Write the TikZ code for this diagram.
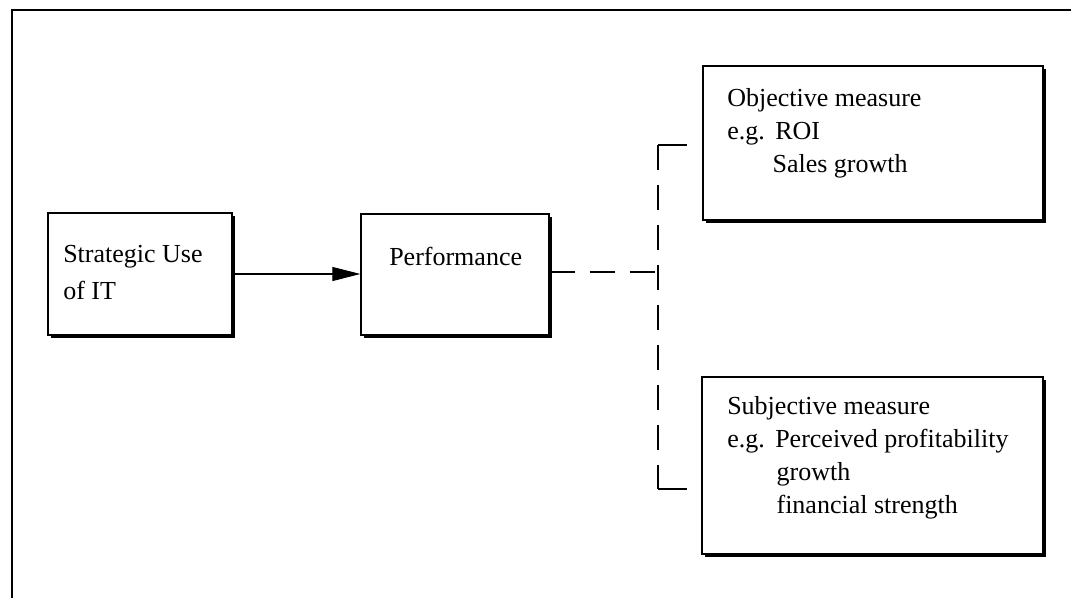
\documentclass[tikz,border=0pt]{standalone}
\usepackage{fontspec}
\setmainfont{Liberation Serif}
\usetikzlibrary{arrows.meta,shadows}
\begin{document}
\begin{tikzpicture}[x=0.75pt,y=-0.75pt,
  box/.style={draw=black, line width=0.9pt, fill=white, inner sep=0pt,
    drop shadow={shadow xshift=2pt, shadow yshift=-2pt, fill=black, opacity=1}},
  boxtext/.style={inner sep=0pt, anchor=north west, align=left,
    font=\fontsize{19.5}{24.75}\selectfont},
  link/.style={line width=0.8pt},
  dashlink/.style={line width=0.8pt, dash pattern=on 18.75pt off 11.25pt},
  leadsto/.style={line width=0.8pt, -{Triangle[length=21pt,width=10.5pt]}}]
\useasboundingbox (0,0) rectangle (1071,598);

% frame around the figure
\draw[line width=1.6pt] (12,598) -- (12,10) -- (1071,10);

% boxes
\node[box, minimum width=138pt, minimum height=91.5pt] (suit) at (140,274) {};
\node[box, minimum width=141pt, minimum height=90.75pt] (perf) at (455,274.5) {};
\node[box, minimum width=255pt, minimum height=115.5pt] (obj) at (873,143) {};
\node[box, minimum width=255.75pt, minimum height=132.75pt] (subj) at (872.5,465.5) {};

% box texts
\node[boxtext, font=\fontsize{19.5}{27.75}\selectfont] (suittext) at (63,245)
  {Strategic Use\\of IT};
\node[boxtext] (perftext) at (389,247) {Performance};
\node[boxtext] (objtext) at (727,88)
  {Objective measure\\\makebox[36pt][l]{e.g.}ROI\\\hspace*{34pt}Sales growth};
\node[boxtext] (subjtext) at (727,396)
  {Subjective measure\\\makebox[36pt][l]{e.g.}Perceived profitability\\
   \hspace*{37pt}growth\\\hspace*{37pt}financial strength};

% arrow between the first two boxes
\draw[leadsto] (suit.east) -- (suit.east -| perf.west);

% dashed bracket leading to the two kinds of measure
\coordinate (junc) at (658,272);
\coordinate (ctop) at (658,145);
\coordinate (cbot) at (658,489);
\coordinate (topend) at (687,145);
\coordinate (botend) at (687,489);
\draw[dashlink] (junc -| perf.east) -- (junc);
\draw[dashlink] (ctop) -- (cbot);
\draw[link] (ctop) -- (topend);
\draw[link] (cbot) -- (botend);
\end{tikzpicture}
\end{document}
